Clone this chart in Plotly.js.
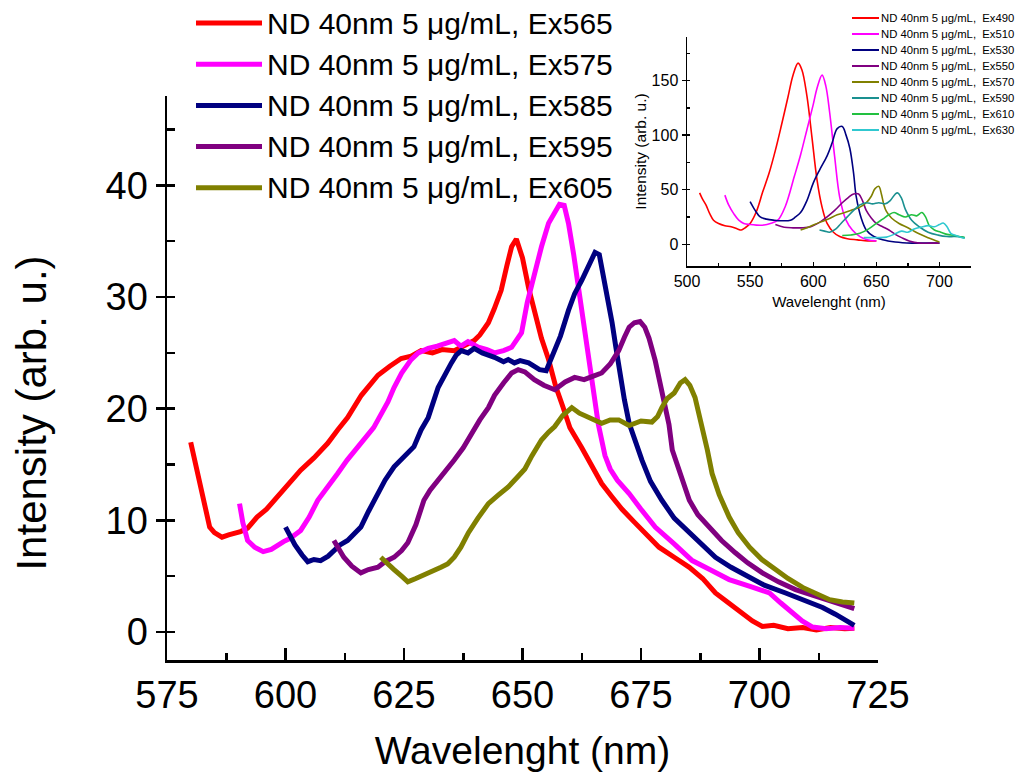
<!DOCTYPE html>
<html>
<head>
<meta charset="utf-8">
<script src="https://cdn.plot.ly/plotly-3.0.1.min.js"></script>
<style>html,body{margin:0;padding:0;background:#fff;}#chart{width:1022px;height:776px;}</style>
</head>
<body>
<div id="chart"></div>
<script>
// ---------- Main chart data ----------
const mainNames = ["ND 40nm 5 μg/mL, Ex565","ND 40nm 5 μg/mL, Ex575","ND 40nm 5 μg/mL, Ex585","ND 40nm 5 μg/mL, Ex595","ND 40nm 5 μg/mL, Ex605"];
const mainColors = ["#FF0000","#FF00FF","#000080","#800080","#808000"];

const ex565_x = [580,581,582,583,584,585,586.6,588,590.5,592,594,596,598.3,600,603.2,606,608.9,611,613.1,616,619.5,622,624.4,626.5,628.6,631,633,635.6,637.5,639.8,641,642.8,644,645.5,646.7,647.7,648.7,650,651.3,652.5,654,655.5,657,658.5,660,662.5,664.6,666.7,668.9,671,673.7,676,678.8,682,685.2,688,690.7,693.5,696.4,698.5,700.6,703,706,709.1,712,715,718,720];
const ex565_y = [17.0,15.0,13.0,11.0,9.4,8.9,8.5,8.7,9.0,9.3,10.3,11.0,12.1,13.0,14.5,15.6,16.9,18.1,19.2,21.2,23.0,23.8,24.5,24.7,25.2,25.0,25.3,25.2,25.6,26.1,26.6,27.7,28.9,30.6,32.8,34.5,35.2,33.5,30.8,28.6,26.3,24.4,22.0,20.2,18.3,16.5,14.9,13.3,12.1,11.0,9.8,8.8,7.6,6.7,5.8,4.8,3.5,2.6,1.7,1.0,0.5,0.6,0.3,0.4,0.2,0.4,0.3,0.35];

const ex575_x = [590.3,591,592,593.5,595.3,597,599.6,601,603.2,605,606.8,609,611,613,615.9,618.6,621.6,622.9,624.5,626.5,628,630.1,632,633.5,635.6,637,638.5,640.7,642.5,644.1,646,647.7,648.3,649.8,651,652.5,654,655.5,656.8,657.8,658.8,659.7,660.8,661.9,663,664,665,666,667.4,668.5,670,672.5,675,678,682,685.8,689.5,693.6,698,702.1,704.5,707,709,711.2,714,717,720];
const ex575_y = [11.5,9.8,8.2,7.6,7.2,7.4,8.1,8.4,9.1,10.3,11.8,13.0,14.2,15.4,16.9,18.3,20.6,21.9,23.2,24.4,25.0,25.4,25.6,25.8,26.1,25.6,26.0,25.5,25.3,25.0,25.2,25.5,25.9,26.8,29.5,32.1,34.5,36.6,37.6,38.3,38.2,36.6,33.8,30.6,27.0,24.2,21.2,18.6,15.8,14.6,13.6,12.4,11.0,9.4,7.9,6.4,5.6,4.7,4.1,3.5,2.6,1.7,1.0,0.45,0.3,0.4,0.35];

const ex585_x = [600,601,602,603.5,604.7,606,607.4,609,610.2,611.5,613.1,614.5,615.9,617.5,619.5,621,622.9,625,627.1,628.6,630.1,632.2,633.5,635,636,637.1,638.5,639.8,641.5,643,644.1,646,647,648.3,649.5,651.3,652.5,653.6,655,656.1,658,659.7,661,662.5,664,665.3,666.2,666.7,668,668.9,669.7,670.5,671.5,672.5,673.8,675.2,677,679.4,682,685.2,688,690.7,694,697.9,701,705.5,709,713.3,716,718,720];
const ex585_y = [9.4,8.5,7.8,6.9,6.3,6.5,6.4,6.8,7.3,7.8,8.2,8.8,9.4,10.8,12.4,13.6,14.8,15.7,16.6,18.1,19.2,21.9,23.0,24.1,24.8,25.2,25.0,25.4,25.0,24.8,24.6,24.2,24.4,24.1,24.3,24.1,23.8,23.5,23.4,24.6,26.5,28.8,30.3,31.5,32.8,34.0,33.8,32.7,30.0,27.7,25.5,23.2,20.8,18.7,17.0,15.4,13.5,11.8,10.2,8.9,7.8,6.7,5.8,4.9,4.2,3.5,2.9,2.2,1.6,1.1,0.6];

const ex595_x = [610.2,611.3,612.3,614,615.9,617.5,619.5,621,622.9,624.5,625.8,627.5,629.2,630.5,632.2,634,635.6,637.5,639.2,641,642.8,644.1,646,647.7,649.1,650.5,652.5,654.5,656.8,659,661,663,664.8,666.7,668.5,670.3,671.5,672.5,673.6,674.8,675.8,676.7,678,679.4,680.9,681.6,683.5,685.2,687,689.4,692,694.9,697.5,700.6,704,707.6,712,716.1,719,720];
const ex595_y = [8.2,7.4,6.7,5.9,5.3,5.6,5.8,6.3,6.7,7.3,8.0,9.6,11.8,12.7,13.6,14.4,15.4,16.5,17.8,19.0,20.1,21.2,22.3,23.2,23.5,23.3,22.6,22.1,21.7,22.4,22.8,22.6,22.9,23.2,24.0,25.2,26.4,27.3,27.7,27.8,27.3,26.3,24.3,21.7,18.6,16.3,13.8,11.8,10.5,9.4,8.2,7.1,6.2,5.3,4.5,3.8,3.2,2.6,2.2,2.1];

const ex605_x = [620.1,621.5,622.9,624.5,625.8,627.5,629.2,631,632.8,634.2,635.6,637,638.6,640.6,642.8,645,647,649,650.5,652,654,655.5,656.8,658.5,660.4,662,664,666.7,668.5,670.3,672.5,675,677.3,678.5,679.4,680.5,682,683.3,684.3,685.3,686.4,687.3,688,689,690,691.5,693.6,695.5,697.9,700.5,703.4,706,709.1,712,714.8,717.5,720];
const ex605_y = [6.7,6.1,5.6,5.0,4.5,4.8,5.1,5.4,5.8,6.1,6.7,7.6,8.9,10.2,11.5,12.3,13.0,13.9,14.6,15.8,17.2,17.9,18.4,19.4,20.1,19.6,19.2,18.7,19.0,19.0,18.5,18.9,18.8,19.3,20.1,20.9,21.4,22.3,22.6,22.1,21.0,19.5,18.1,16.3,14.2,12.3,10.3,8.9,7.6,6.5,5.6,4.8,4.0,3.4,2.9,2.7,2.6];

// ---------- Inset data ----------
const insetNames = ["ND 40nm 5 μg/mL,\u00a0 Ex490","ND 40nm 5 μg/mL,\u00a0 Ex510","ND 40nm 5 μg/mL,\u00a0 Ex530","ND 40nm 5 μg/mL,\u00a0 Ex550","ND 40nm 5 μg/mL,\u00a0 Ex570","ND 40nm 5 μg/mL,\u00a0 Ex590","ND 40nm 5 μg/mL,\u00a0 Ex610","ND 40nm 5 μg/mL,\u00a0 Ex630"];
const insetColors = ["#FF0000","#FF00FF","#000080","#800080","#808000","#1A9090","#22C040","#30C8D0"];

const in490_x = [510,512,515,518,521,525,530,535,540,543,546,550,555,560,565,570,575,580,584,588,591,595,599,603,607,611,616,621,627,635,643,650];
const in490_y = [47,42,36,28,22,19,17,16,14,13,15,19,30,48,65,86,110,135,155,166,160,136,98,59,34,19,11,7,5,4,3,3];
const in510_x = [530,533,537,541,545,550,555,561,566,572,578,585,590,595,600,603,607,610,613,617,621,626,631,637,643,650];
const in510_y = [45,36,28,22,19,18,17.5,17.6,19,22,35,62,82,105,128,143,155,145,121,80,43,22,13,7,4,3];
const in530_x = [550,554,558,563,569,575,582,586,590,595,600,605,611,615,619,623,626,629,632,634,638,642,648,655,665,678,690,700];
const in530_y = [39,31,25,23,22,21.5,22,25,29,40,56,68,81,93,106,108,100,88,65,44,24,13,7,4,2,1,1,1];
const in550_x = [570,577,584,591,598,605,611,617,623,628,632,636,639,642,646,650,655,660,665,670,676,684,692,700];
const in550_y = [18,15.5,15,15,16,20,25,31,38,43,46,46,40,31,24,19,16,13,9,6,3,1,1,1];
const in570_x = [590,597,605,612,619,625,631,637,642,646,649,652,654,656,658,662,668,675,683,691,700];
const in570_y = [13,16,20,23,27,29,31.5,34,38,44,51,53,46,36,30,24,19,15,10,6,2];
const in590_x = [605,609,613,618,622,627,632,637,642,647,652,657,661,665,667,670,673,678,684,691,699,706,712,718,720];
const in590_y = [13,12,11,14,19,25,31,36,38,37,38,37,40,46,47,42,32,22,16,11,8.3,7,7,6.5,6];
const in610_x = [623,630,637,644,650,655,660,664,668,673,678,682,686,689,692,696,701,706,712,718,720];
const in610_y = [8,8.5,10,14,19,23,27,29,27,25,27,26,29,25,17,13,11,9,8,6.5,6];
const in630_x = [640,645,651,658,664,670,675,680,686,691,696,700,703,706,709,713,718,720];
const in630_y = [6,6,6,6.5,9,12,11,14,15.7,17,16,18,19.4,16,10,8,6,5.5];

// tick labels
const mainXTicks = [575,600,625,650,675,700,725];
const mainYTicks = [0,10,20,30,40];
const insetXTicks = [500,550,600,650,700];
const insetYTicks = [0,50,100,150];

const mainX = [ex565_x,ex575_x,ex585_x,ex595_x,ex605_x];
const mainY = [ex565_y,ex575_y,ex585_y,ex595_y,ex605_y];
const insetX = [in490_x,in510_x,in530_x,in550_x,in570_x,in590_x,in610_x,in630_x];
const insetY = [in490_y,in510_y,in530_y,in550_y,in570_y,in590_y,in610_y,in630_y];

const FONT = "Arial, 'Liberation Sans', sans-serif";
const W=1022, H=776;
const fx = p=>p/W;          // pixel -> paper fraction (margins are zero)
const fy = p=>(H-p)/H;

const traces = [];
mainNames.forEach((n,i)=>traces.push({
  type:"scatter", mode:"lines", name:n, x:mainX[i], y:mainY[i], showlegend:false,
  line:{color:mainColors[i], width:5}, xaxis:"x", yaxis:"y"
}));
insetNames.forEach((n,i)=>traces.push({
  type:"scatter", mode:"lines", name:n, x:insetX[i], y:insetY[i], showlegend:false,
  line:{color:insetColors[i], width:1.6, shape:"spline"}, xaxis:"x2", yaxis:"y2"
}));

// legends (keys + labels) drawn in paper space
const shapes = [], annotations = [];
mainNames.forEach((n,i)=>{
  const yy = fy(23 + 41.2*i);
  shapes.push({type:"line", xref:"paper", yref:"paper", x0:fx(196), x1:fx(262), y0:yy, y1:yy,
               line:{color:mainColors[i], width:5}});
  annotations.push({xref:"paper", yref:"paper", x:fx(265), y:yy, xanchor:"left", yanchor:"middle",
               text:n, showarrow:false, font:{size:30, family:FONT, color:"#000"}});
});
insetNames.forEach((n,i)=>{
  const yy = fy(18 + 16*i);
  shapes.push({type:"line", xref:"paper", yref:"paper", x0:fx(852), x1:fx(879), y0:yy, y1:yy,
               line:{color:insetColors[i], width:2}});
  annotations.push({xref:"paper", yref:"paper", x:fx(879), y:yy, xanchor:"left", yanchor:"middle",
               text:n, showarrow:false, font:{size:11.3, family:FONT, color:"#000"}});
});

const layout = {
  width:W, height:H,
  margin:{l:0, r:0, t:0, b:0, pad:0},
  paper_bgcolor:"#fff", plot_bgcolor:"rgba(0,0,0,0)",
  font:{family:FONT, color:"#000"},
  showlegend:false,
  shapes:shapes, annotations:annotations,
  xaxis:{
    domain:[fx(167), fx(878)], anchor:"y", range:[575,725],
    tickvals:mainXTicks, ticktext:mainXTicks.map(String),
    ticks:"inside", ticklen:12, tickwidth:2.5, tickcolor:"#000",
    minor:{dtick:12.5, tick0:575, ticks:"inside", ticklen:7, tickwidth:2.5, tickcolor:"#000"},
    showline:true, linewidth:2.5, linecolor:"#000", showgrid:false, zeroline:false,
    tickfont:{size:38, family:FONT},
    title:{text:"Wavelenght (nm)", font:{size:39, family:FONT}, standoff:22}
  },
  yaxis:{
    domain:[fy(660), fy(96)], anchor:"x", range:[-2.5,48],
    tickvals:mainYTicks, ticktext:mainYTicks.map(String),
    ticks:"outside", ticklen:9, tickwidth:2.5, tickcolor:"#000",
    minor:{dtick:5, tick0:0, ticks:"inside", ticklen:8, tickwidth:2.5, tickcolor:"#000"},
    showline:true, linewidth:2.5, linecolor:"#000", showgrid:false, zeroline:false,
    tickfont:{size:38, family:FONT},
    title:{text:"Intensity (arb. u.)\u00a0\u00a0\u00a0\u00a0\u00a0\u00a0\u200b", font:{size:42, family:FONT}, standoff:46}
  },
  yaxis3:{
    overlaying:"y", anchor:"x", side:"left", range:[-2.5,48],
    tickvals:mainYTicks, showticklabels:false,
    ticks:"inside", ticklen:13, tickwidth:2.5, tickcolor:"#000",
    showline:false, showgrid:false, zeroline:false
  },
  xaxis2:{
    domain:[fx(687), fx(971)], anchor:"y2", range:[500,725],
    tickvals:insetXTicks, ticktext:insetXTicks.map(String),
    ticks:"inside", ticklen:4, tickwidth:1.3, tickcolor:"#000",
    minor:{dtick:25, tick0:500, ticks:"inside", ticklen:3, tickwidth:1.3, tickcolor:"#000"},
    showline:true, linewidth:1.5, linecolor:"#000", showgrid:false, zeroline:false,
    tickfont:{size:16, family:FONT},
    title:{text:"Wavelenght (nm)", font:{size:15, family:FONT}, standoff:8}
  },
  yaxis2:{
    domain:[fy(266), fy(37)], anchor:"x2", range:[-20,190],
    tickvals:insetYTicks, ticktext:insetYTicks.map(String),
    ticks:"outside", ticklen:4, tickwidth:1.3, tickcolor:"#000",
    minor:{dtick:25, tick0:0, ticks:"inside", ticklen:3, tickwidth:1.3, tickcolor:"#000"},
    showline:true, linewidth:1.5, linecolor:"#000", showgrid:false, zeroline:false,
    tickfont:{size:16, family:FONT},
    title:{text:"Intensity (arb. u.)", font:{size:15.5, family:FONT}, standoff:1}
  }
};

Plotly.newPlot("chart", traces, layout, {displayModeBar:false, staticPlot:true});
</script>
</body>
</html>
